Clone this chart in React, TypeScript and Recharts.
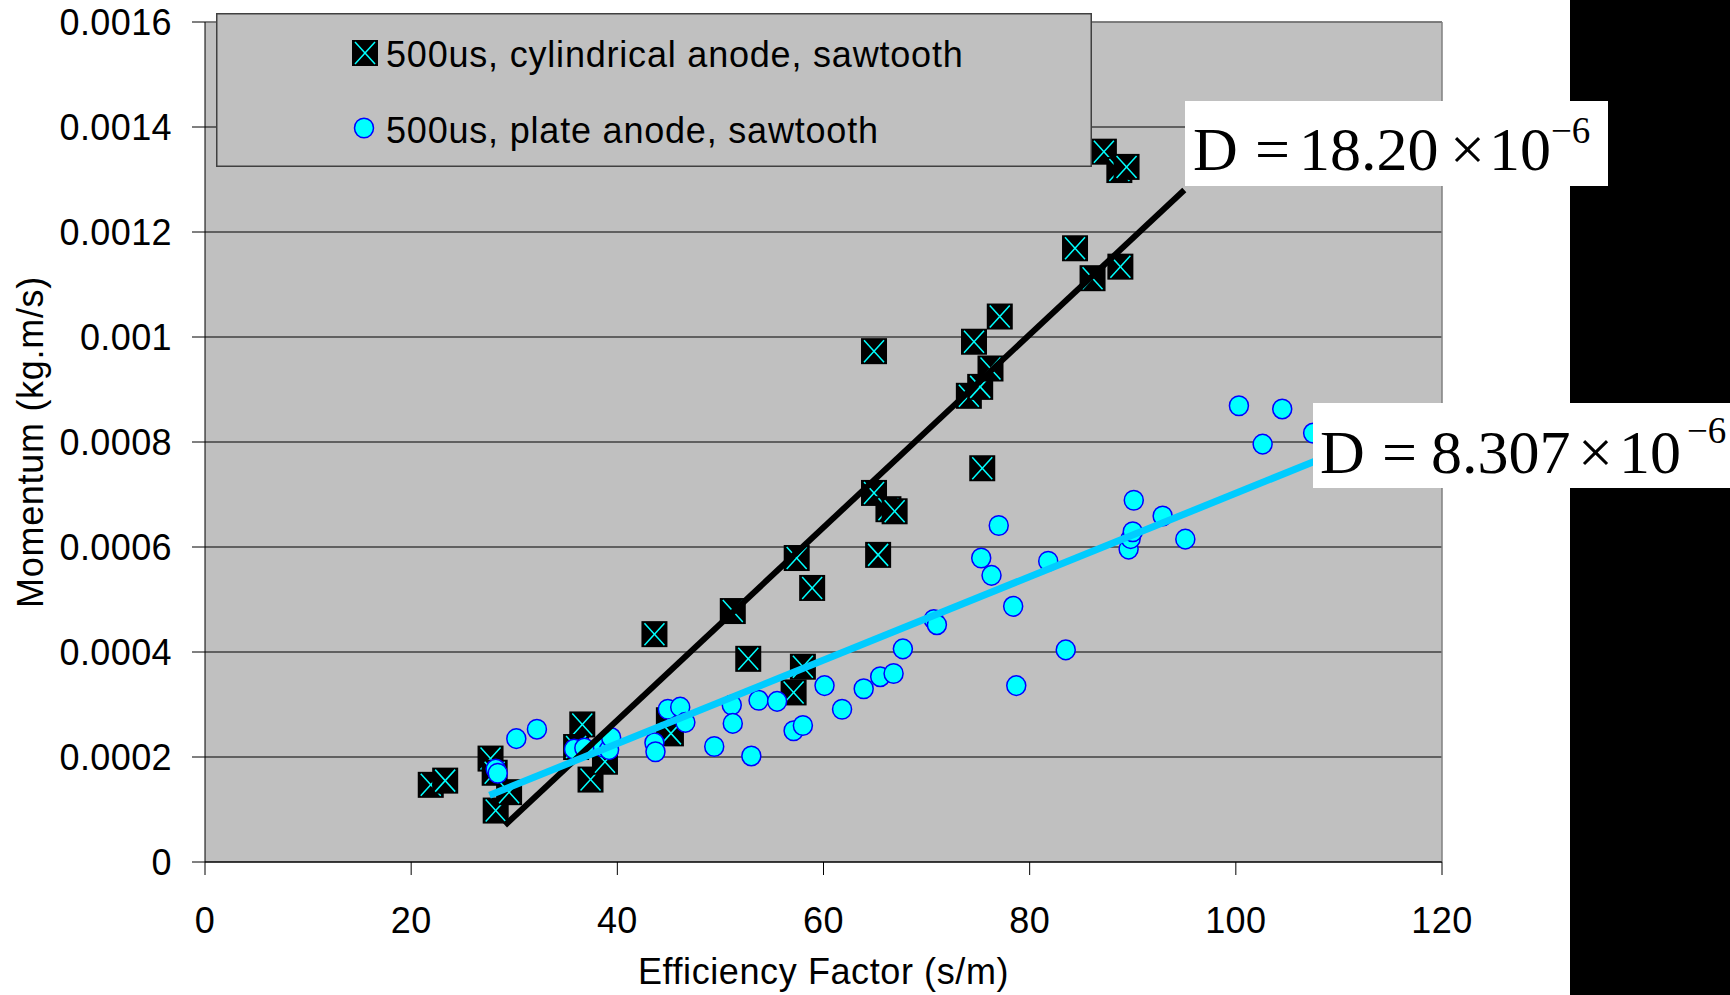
import React from 'react';
import { ScatterChart, Scatter, XAxis, YAxis, CartesianGrid, ReferenceLine, Legend, Label } from 'recharts';

const xTicks = [0, 20, 40, 60, 80, 100, 120];
const yTicks = [0, 0.0002, 0.0004, 0.0006, 0.0008, 0.001, 0.0012, 0.0014, 0.0016];

const seriesNames = ['500us, cylindrical anode, sawtooth', '500us, plate anode, sawtooth'];

const cylX = [21.9, 23.3, 27.7, 28.1, 28.2, 29.5, 36.6, 36.0, 37.4, 38.8, 43.6, 45.0, 45.2, 51.2, 52.7, 57.1, 58.0, 57.4, 58.9, 64.9, 64.9, 65.3, 66.3, 66.9, 74.1, 75.2, 76.2, 74.6, 77.1, 75.4, 84.4, 86.1, 88.8, 87.2, 88.7, 89.4];
const cylY = [0.000147, 0.000155, 0.000197, 0.00017, 0.000098, 0.000133, 0.000262, 0.000219, 0.000157, 0.000191, 0.000434, 0.00027, 0.000245, 0.000478, 0.000387, 0.000323, 0.000372, 0.000579, 0.000522, 0.000973, 0.000703, 0.000585, 0.000672, 0.000668, 0.000888, 0.000905, 0.00094, 0.000991, 0.001039, 0.00075, 0.001169, 0.001112, 0.001134, 0.001353, 0.001318, 0.001324];

const plateX = [28.2, 28.4, 30.2, 32.2, 35.8, 36.8, 38.6, 39.2, 39.4, 43.6, 43.7, 44.9, 46.1, 46.6, 49.4, 51.1, 51.2, 53.0, 53.7, 55.5, 57.1, 58.0, 60.1, 61.8, 63.9, 65.5, 66.8, 67.7, 70.7, 71.0, 75.3, 76.3, 77.0, 78.4, 78.7, 81.8, 83.5, 89.6, 89.8, 90.0, 90.1, 92.9, 95.1, 100.3, 102.6, 104.5, 107.5];
const plateY = [0.000177, 0.000169, 0.000235, 0.000253, 0.000215, 0.000217, 0.000219, 0.000214, 0.000237, 0.000227, 0.00021, 0.000291, 0.000295, 0.000266, 0.00022, 0.000299, 0.000264, 0.000202, 0.000308, 0.000306, 0.00025, 0.00026, 0.000336, 0.000291, 0.00033, 0.000353, 0.000359, 0.000406, 0.000462, 0.000452, 0.000579, 0.000546, 0.000641, 0.000487, 0.000336, 0.000573, 0.000404, 0.000596, 0.000616, 0.000629, 0.000689, 0.000659, 0.000615, 0.000869, 0.000796, 0.000863, 0.000817];

const cylTrendX = [29.1, 95.0];
const cylTrendY = [0.00007, 0.00128];
const plateTrendX = [27.6, 108.5];
const plateTrendY = [0.000127, 0.00077];

const slopeLabels = ['18.20', '8.307'];

const zip = (xs: number[], ys: number[]) => xs.map((x, i) => ({ x, y: ys[i] }));
const cylData = zip(cylX, cylY);
const plateData = zip(plateX, plateY);
const cylTrend = zip(cylTrendX, cylTrendY);
const plateTrend = zip(plateTrendX, plateTrendY);

const SANS = '"Liberation Sans", Arial, sans-serif';
const SERIF = '"Liberation Serif", "Times New Roman", serif';

const SquareMarker = (p: any) => {
  const { cx, cy } = p;
  const h = 13;
  return (
    <g>
      <rect x={cx - h} y={cy - h} width={2 * h} height={2 * h} fill="#000" />
      <line x1={cx - h + 3} y1={cy - h + 2} x2={cx + h - 3} y2={cy + h - 2} stroke="#00FFFF" strokeWidth={1.5} />
      <line x1={cx + h - 3} y1={cy - h + 2} x2={cx - h + 3} y2={cy + h - 2} stroke="#00FFFF" strokeWidth={1.5} />
    </g>
  );
};

const CircleMarker = (p: any) => {
  const { cx, cy } = p;
  return <ellipse cx={cx} cy={cy} rx={9.5} ry={9.8} fill="#00FFFF" stroke="#0000FF" strokeWidth={1.5} />;
};

const NoMarker = () => <g />;

const renderLegend = () => (
  <svg width={876} height={154} style={{ display: 'block' }}>
    <rect x={0.75} y={0.75} width={874.5} height={152.5} fill="#C0C0C0" stroke="#404040" strokeWidth={1.5} />
    <SquareMarker cx={149} cy={40} />
    <text x={170} y={53.5} fontFamily={SANS} fontSize={36} letterSpacing={0.8} fill="#000">{seriesNames[0]}</text>
    <CircleMarker cx={148} cy={115} />
    <text x={170} y={130} fontFamily={SANS} fontSize={36} letterSpacing={0.8} fill="#000">{seriesNames[1]}</text>
  </svg>
);

const yFmt = (v: number) => (v === 0 ? '0' : String(parseFloat(v.toFixed(4))));

export default function App() {
  return (
    <div style={{ position: 'absolute', left: 0, top: 0, width: 1730, height: 995, background: '#fff', overflow: 'hidden' }}>
      <ScatterChart width={1730} height={995} margin={{ top: 22, right: 288, bottom: 0, left: 0 }}>
        <CartesianGrid horizontal vertical={false} stroke="#000" fill="#C0C0C0" />
        <XAxis
          type="number"
          dataKey="x"
          domain={[0, 120]}
          ticks={xTicks}
          height={133}
          tickSize={13}
          tickMargin={32}
          axisLine={{ stroke: '#000' }}
          tickLine={{ stroke: '#000' }}
          tick={{ fontFamily: SANS, fontSize: 36, fill: '#000', letterSpacing: 0.4 }}
          allowDataOverflow
        >
          <Label value="Efficiency Factor (s/m)" position="insideBottom" offset={11} fontFamily={SANS} fontSize={36} fill="#000" style={{ letterSpacing: '0.6px' }} />
        </XAxis>
        <YAxis
          type="number"
          dataKey="y"
          domain={[0, 0.0016]}
          ticks={yTicks}
          width={205}
          tickSize={13}
          tickMargin={20}
          tickFormatter={yFmt}
          axisLine={{ stroke: '#000' }}
          tickLine={{ stroke: '#000' }}
          tick={{ fontFamily: SANS, fontSize: 36, fill: '#000', letterSpacing: 0.4 }}
          allowDataOverflow
        >
          <Label value="Momentum (kg.m/s)" position="insideLeft" angle={-90} offset={30} fontFamily={SANS} fontSize={36} fill="#000" style={{ textAnchor: 'middle', letterSpacing: '0.7px' }} />
        </YAxis>
        <ReferenceLine y={0.0016} stroke="#808080" strokeWidth={1.5} />
        <ReferenceLine x={120} stroke="#808080" strokeWidth={1.5} />
        <Legend layout="horizontal" verticalAlign="middle" align="center" content={renderLegend} wrapperStyle={{ left: 216, top: 13, width: 876, height: 154 }} />
        <Scatter name={seriesNames[0]} data={cylData} shape={SquareMarker} isAnimationActive={false} />
        <Scatter name={seriesNames[1]} data={plateData} shape={CircleMarker} isAnimationActive={false} />
        <Scatter name="cylTrend" data={cylTrend} fill="#000" line={{ stroke: '#000', strokeWidth: 6 }} shape={NoMarker} legendType="none" isAnimationActive={false} />
        <Scatter name="plateTrend" data={plateTrend} fill="#00CCFF" line={{ stroke: '#00CCFF', strokeWidth: 7 }} shape={NoMarker} legendType="none" isAnimationActive={false} />
      </ScatterChart>
      <svg width={1730} height={995} style={{ position: 'absolute', left: 0, top: 0, pointerEvents: 'none' }}>
        <rect x={1570} y={0} width={160} height={995} fill="#000" />
        <rect x={1185} y={101} width={423} height={85} fill="#fff" />
        <g fontFamily={SERIF} fontSize={62} fill="#000">
          <text x={1193} y={170}>D</text>
          <text x={1255} y={170}>=</text>
          <text x={1299} y={170}>{slopeLabels[0]}</text>
          <text x={1450} y={170}>×</text>
          <text x={1489} y={170}>10</text>
          <text x={1551} y={143} fontSize={37}>−6</text>
        </g>
        <rect x={1313} y={403} width={417} height={85} fill="#fff" />
        <g fontFamily={SERIF} fontSize={62} fill="#000">
          <text x={1320} y={473}>D</text>
          <text x={1382} y={473}>=</text>
          <text x={1431} y={473}>{slopeLabels[1]}</text>
          <text x={1578} y={473}>×</text>
          <text x={1619} y={473}>10</text>
          <text x={1687} y={443} fontSize={37}>−6</text>
        </g>
      </svg>
    </div>
  );
}
